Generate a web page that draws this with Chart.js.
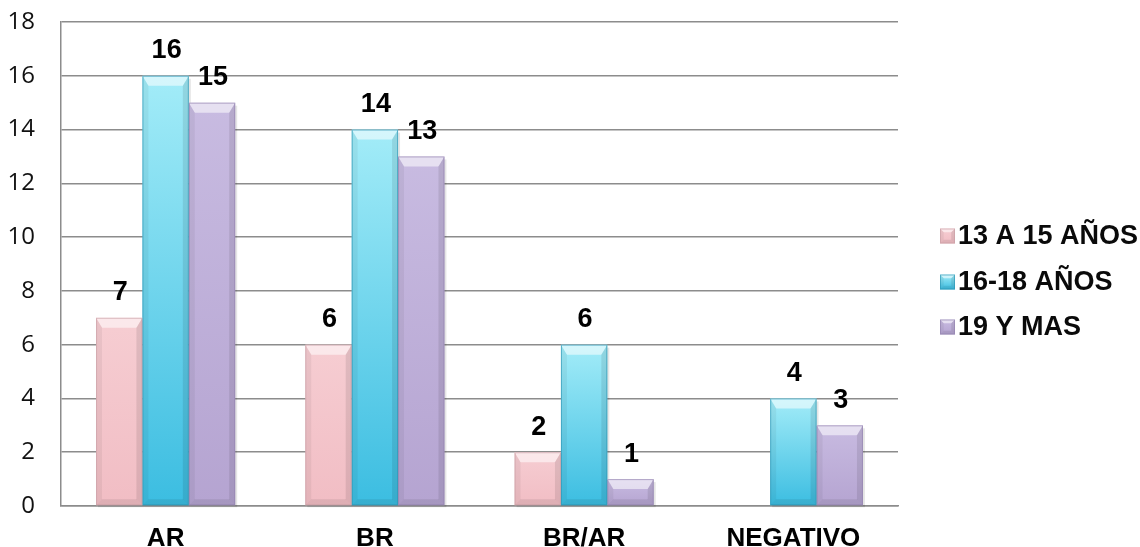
<!DOCTYPE html>
<html>
<head>
<meta charset="utf-8">
<script src="https://cdn.jsdelivr.net/npm/chart.js@4/dist/chart.umd.min.js"></script>
<style>
  html, body { margin: 0; padding: 0; background: #ffffff; }
  #wrap { width: 1140px; height: 547px; }
</style>
</head>
<body>
<div id="wrap"><canvas id="c" width="1140" height="547"></canvas></div>
<script>
// Categories and series values
const categories = ['AR', 'BR', 'BR/AR', 'NEGATIVO'];
const seriesNames = ['13 A 15 AÑOS', '16-18 AÑOS', '19 Y MAS'];
const ages13to15 = [7, 6, 2, 0];
const ages16to18 = [16, 14, 6, 4];
const ages19plus = [15, 13, 1, 3];
const yTickValues = [0, 2, 4, 6, 8, 10, 12, 14, 16, 18];

// Shading for each series: light top, deeper bottom, outline
const palettes = [
  { top: '#F6CDD2', bottom: '#F1BDC4', edge: '#C79EA4' },
  { top: '#A3ECF8', bottom: '#3BBDE1', edge: '#2C95B3' },
  { top: '#C8BBE1', bottom: '#B5A4D1', edge: '#9281AD' }
];

function barGradient(ctx, top, bottom, pal) {
  const g = ctx.createLinearGradient(0, top, 0, bottom);
  g.addColorStop(0, pal.top);
  g.addColorStop(1, pal.bottom);
  return g;
}

function makeFill(i) {
  return function (context) {
    const chart = context.chart;
    const yScale = chart.scales && chart.scales.y;
    if (!chart.chartArea || !yScale || context.type !== 'data') return palettes[i].bottom;
    const v = context.parsed ? context.parsed.y : context.raw;
    const top = yScale.getPixelForValue(v);
    const bottom = yScale.getPixelForValue(0);
    if (!(bottom - top > 0.5)) return palettes[i].bottom;
    return barGradient(chart.ctx, top, bottom, palettes[i]);
  };
}

// Draws bevelled facets on a box
function bevel(ctx, left, top, right, bottom, pal) {
  const w = right - left, h = bottom - top;
  if (h < 1) return;
  const b = Math.min(10, h / 2.5, w / 4);
  const s = Math.min(6, b);
  ctx.save();
  // top facet
  ctx.beginPath();
  ctx.moveTo(left, top); ctx.lineTo(right, top);
  ctx.lineTo(right - s, top + b); ctx.lineTo(left + s, top + b);
  ctx.closePath();
  ctx.fillStyle = 'rgba(255,255,255,0.55)';
  ctx.fill();
  // left facet
  ctx.beginPath();
  ctx.moveTo(left, top); ctx.lineTo(left + s, top + b);
  ctx.lineTo(left + s, bottom - s); ctx.lineTo(left, bottom);
  ctx.closePath();
  ctx.fillStyle = 'rgba(0,0,0,0.05)';
  ctx.fill();
  // right facet
  ctx.beginPath();
  ctx.moveTo(right, top); ctx.lineTo(right - s, top + b);
  ctx.lineTo(right - s, bottom - s); ctx.lineTo(right, bottom);
  ctx.closePath();
  ctx.fillStyle = 'rgba(0,0,0,0.09)';
  ctx.fill();
  // bottom facet
  ctx.beginPath();
  ctx.moveTo(left, bottom); ctx.lineTo(left + s, bottom - s);
  ctx.lineTo(right - s, bottom - s); ctx.lineTo(right, bottom);
  ctx.closePath();
  ctx.fillStyle = 'rgba(0,0,0,0.08)';
  ctx.fill();
  // outline
  ctx.strokeStyle = pal.edge;
  ctx.globalAlpha = 0.65;
  ctx.lineWidth = 1;
  ctx.strokeRect(left + 0.5, top + 0.5, w - 1, h - 1);
  ctx.restore();
}

const barShade = {
  id: 'barShade',
  beforeDatasetsDraw(chart) {
    const ctx = chart.ctx;
    ctx.save();
    chart.data.datasets.forEach((ds, i) => {
      chart.getDatasetMeta(i).data.forEach(el => {
        const p = el.getProps(['x', 'y', 'base', 'width'], true);
        const h = p.base - p.y;
        if (h < 1) return;
        ctx.fillStyle = 'rgba(0,0,0,0.10)';
        ctx.fillRect(p.x - p.width / 2 + 2, p.y + 3, p.width, h - 1);
      });
    });
    ctx.restore();
  },
  afterDatasetsDraw(chart) {
    const ctx = chart.ctx;
    chart.data.datasets.forEach((ds, i) => {
      chart.getDatasetMeta(i).data.forEach(el => {
        const p = el.getProps(['x', 'y', 'base', 'width'], true);
        bevel(ctx, p.x - p.width / 2, p.y, p.x + p.width / 2, p.base, palettes[i]);
      });
    });
    // value labels above the bars
    ctx.save();
    ctx.font = 'bold 27px "Liberation Sans", Arial, sans-serif';
    ctx.fillStyle = '#000000';
    ctx.textAlign = 'center';
    ctx.textBaseline = 'middle';
    chart.data.datasets.forEach((ds, i) => {
      chart.getDatasetMeta(i).data.forEach((el, j) => {
        const v = ds.data[j];
        if (!v) return;
        const p = el.getProps(['x', 'y'], true);
        ctx.fillText(String(v), p.x + 1, p.y - 25);
      });
    });
    ctx.restore();
  }
};

// Legend on the right with bevelled markers
const sideLegend = {
  id: 'sideLegend',
  afterDraw(chart) {
    const ctx = chart.ctx;
    const rows = [236, 282, 327];
    ctx.save();
    ctx.font = 'bold 27px "Liberation Sans", Arial, sans-serif';
    ctx.textAlign = 'left';
    ctx.textBaseline = 'middle';
    chart.data.datasets.forEach((ds, i) => {
      const cy = rows[i];
      const x0 = 940, sz = 15;
      ctx.fillStyle = barGradient(ctx, cy - sz / 2, cy + sz / 2, palettes[i]);
      ctx.fillRect(x0, cy - sz / 2, sz, sz);
      bevel(ctx, x0, cy - sz / 2, x0 + sz, cy + sz / 2, palettes[i]);
      ctx.fillStyle = '#0a0a0a';
      ctx.fillText(ds.label, 958, cy + 1);
    });
    ctx.restore();
  }
};

const seriesValues = [ages13to15, ages16to18, ages19plus];

new Chart(document.getElementById('c'), {
  type: 'bar',
  data: {
    labels: categories,
    datasets: seriesValues.map((vals, i) => ({
      label: seriesNames[i],
      data: vals,
      backgroundColor: makeFill(i),
      borderWidth: 0,
      categoryPercentage: 0.665,
      barPercentage: 1.0
    }))
  },
  options: {
    responsive: false,
    animation: false,
    devicePixelRatio: 1,
    layout: { padding: { left: 0, top: 22, right: 242, bottom: 0 } },
    plugins: {
      legend: { display: false },
      tooltip: { enabled: false }
    },
    scales: {
      x: {
        grid: { display: false, drawTicks: false },
        border: { display: true, color: '#8c8c8c', width: 1.5 },
        ticks: {
          color: '#000000',
          padding: 17,
          font: { family: '"Liberation Sans", Arial, sans-serif', size: 26, weight: 'bold' }
        },
        afterFit(scale) { scale.height = 41; }
      },
      y: {
        min: 0,
        max: 18,
        afterBuildTicks(scale) { scale.ticks = yTickValues.map(v => ({ value: v })); },
        grid: { color: '#8c8c8c', lineWidth: 1.5, drawTicks: true, tickLength: 26, tickColor: 'rgba(0,0,0,0)' },
        border: { display: true, color: '#8c8c8c', width: 1.5 },
        ticks: {
          color: '#111111',
          padding: 0,
          font: { family: '"Open Sans", sans-serif', size: 24 }
        },
        afterFit(scale) { scale.width = 61; }
      }
    }
  },
  plugins: [barShade, sideLegend]
});
</script>
</body>
</html>
